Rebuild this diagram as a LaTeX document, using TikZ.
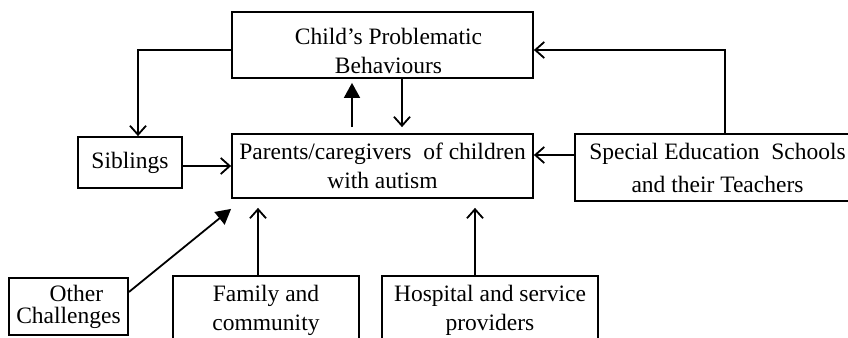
\documentclass[tikz,border=0pt]{standalone}
\usepackage{fontspec}
\setmainfont{Liberation Serif}
\usetikzlibrary{arrows.meta,calc}
\begin{document}
\begin{tikzpicture}[x=0.5pt,y=-0.5pt,
  box/.style={draw,line width=0.9pt,rectangle,inner sep=0pt,align=center,
    font=\fontsize{11.75pt}{14.75pt}\selectfont},
  conn/.style={line width=0.9pt},
  openarr/.style={conn,-{Straight Barb[length=4.5pt,width=8pt,line width=0.9pt]}},
  fillarr/.style={conn,-{Triangle[length=7.5pt,width=8pt]}}]
\useasboundingbox (0,0) rectangle (848,338);
\clip (0,0) rectangle (848,338);
\node[box,minimum width=150.5pt,minimum height=33pt] (child) at (382.5,45)
  {\hspace*{6pt}\rule{0pt}{14pt}Child’s Problematic\\ \hspace*{6pt}Behaviours};
\node[box,minimum width=150.5pt,minimum height=32pt] (parents) at (382.5,166)
  {Parents/caregivers\ \ of children\\ with autism};
\node[box,minimum width=52pt,minimum height=25.5pt] (siblings) at (130,162.5)
  {\raisebox{1pt}{Siblings}};
\node[box,minimum width=142.5pt,minimum height=33.5pt,
  font=\fontsize{11.75pt}{16.5pt}\selectfont] (special) at (717.5,167.5)
  {Special Education\ \ Schools\\ and their Teachers};
\node[box,minimum width=59.5pt,minimum height=28.5pt,
  font=\fontsize{11.75pt}{11pt}\selectfont] (other) at (68.5,306.5)
  {\hspace*{8pt}Other\\ Challenges};
\node[box,minimum width=93pt,minimum height=34.5pt] (family) at (266,310.5)
  {Family and\\ community};
\node[box,minimum width=108pt,minimum height=34.5pt] (hospital) at (490,310.5)
  {Hospital and service\\ providers};
% connectors
\draw[openarr] ([yshift=-2.5pt]child.west) -| ([xshift=4pt]siblings.north);
\draw[openarr] ([yshift=-1.75pt]siblings.east) coordinate (s1) -- (s1 -| parents.west);
\draw[fillarr] ([xshift=-15.25pt,yshift=3pt]parents.north) -- ([xshift=-15.25pt,yshift=-2pt]child.south);
\draw[openarr] ([xshift=9.75pt]child.south) -- ([xshift=9.75pt,yshift=3pt]parents.north);
\draw[openarr] ([xshift=3.75pt]special.north) |- ([yshift=-2.5pt]child.east);
\draw[openarr] ([yshift=6.25pt]special.west) coordinate (s2) -- (s2 -| parents.east);
\draw[fillarr] ([yshift=7.25pt]other.east) -- ([yshift=-5pt]parents.south west);
\coordinate (pb) at ([yshift=-4.5pt]parents.south);
\draw[openarr] ([xshift=-4pt]family.north) coordinate (f1) -- (f1 |- pb);
\draw[openarr] ([xshift=-7.5pt]hospital.north) coordinate (h1) -- (h1 |- pb);
\end{tikzpicture}
\end{document}
